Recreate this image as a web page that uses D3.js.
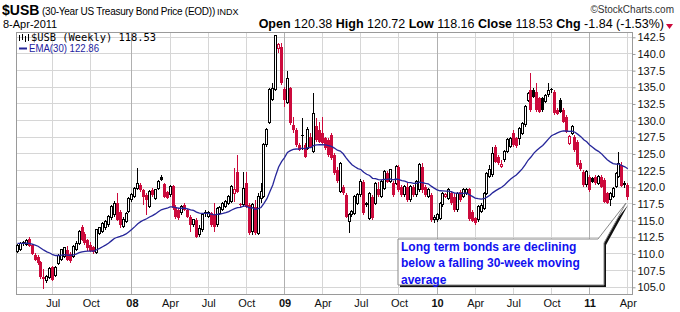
<!DOCTYPE html>
<html>
<head>
<meta charset="utf-8">
<script src="https://cdn.jsdelivr.net/npm/d3@7"></script>
<style>
body { margin: 0; background: #fff; }
svg { display: block; font-family: "Liberation Sans", Arial, sans-serif; }
</style>
</head>
<body>
<div id="chart-area"></div>
<script>
// $USB weekly bars, week of 9-Apr-2007 to week of 4-Apr-2011 (209 weeks)
let opens = [
	110.3, 110.6, 111.5, 111.4, 112.2, 111.3, 109.9, 109.5, 108.8, 106.5,
	106.0, 106.4, 108.0, 106.8, 108.6, 109.1, 109.6, 110.6, 110.0, 109.6,
	110.6, 111.6, 114.1, 113.0, 112.1, 111.4, 111.0, 110.2, 113.1, 113.4,
	113.9, 114.4, 115.4, 115.9, 117.6, 116.3, 114.1, 114.9, 116.35, 118.1,
	118.6, 119.85, 120.35, 119.6, 118.85, 117.1, 119.6, 118.35, 119.85, 121.6,
	120.45, 119.35, 118.85, 120.2, 117.1, 116.6, 116.2, 117.35, 116.6, 115.6,
	114.35, 115.1, 112.85, 113.6, 116.25, 115.6, 116.1, 115.85, 114.35, 116.1,
	116.6, 117.1, 117.6, 117.85, 119.1, 122.35, 117.5, 117.35, 120.6, 117.35,
	113.35, 117.1, 113.1, 118.35, 118.6, 126.35, 129.7, 133.1, 134.6, 140.85,
	141.1, 134.7, 132.7, 134.85, 129.35, 128.6, 126.35, 127.8, 126.35, 125.85,
	127.6, 125.35, 129.2, 128.6, 128.1, 127.35, 127.1, 127.85, 124.85, 122.6,
	119.35, 120.1, 118.85, 114.85, 115.85, 116.1, 117.6, 118.85, 120.85, 117.35,
	115.35, 118.6, 117.6, 119.7, 118.6, 119.8, 122.1, 120.85, 120.6, 120.6,
	123.1, 120.1, 118.85, 120.1, 118.1, 120.1, 118.85, 119.6, 123.1, 120.1,
	118.6, 118.85, 115.1, 115.1, 115.35, 117.35, 118.6, 118.35, 119.2, 118.6,
	116.6, 119.35, 118.6, 119.1, 119.7, 116.35, 115.35, 115.1, 116.35, 116.85,
	119.1, 121.6, 121.85, 126.0, 124.6, 123.1, 124.1, 125.35, 126.1, 128.1,
	127.35, 127.35, 128.1, 129.35, 133.0, 134.6, 134.6, 134.35, 133.35, 133.35,
	132.85, 133.85, 134.75, 134.35, 131.6, 133.1, 131.6, 130.6, 126.6, 128.1,
	127.6, 126.85, 123.6, 122.35, 120.35, 121.6, 121.35, 121.6, 120.6, 121.6,
	121.1, 119.1, 118.1, 118.6, 120.1, 121.6, 123.35, 120.6, 120.38
];
let highs = [
	111.5, 111.8, 111.9, 112.2, 112.5, 111.5, 110.1, 109.8, 109.0, 107.8,
	106.9, 108.0, 108.2, 108.2, 110.0, 110.8, 111.1, 111.2, 110.3, 111.3,
	111.9, 113.6, 114.4, 113.3, 112.3, 111.8, 111.2, 113.8, 114.1, 114.8,
	115.1, 115.9, 117.3, 118.0, 119.1, 116.6, 115.6, 116.3, 118.6, 119.1,
	120.1, 122.95, 120.6, 119.8, 119.1, 119.6, 119.9, 119.8, 121.1, 121.85,
	120.6, 119.5, 120.3, 120.4, 117.3, 116.9, 117.3, 117.6, 116.8, 115.8,
	115.3, 115.4, 114.35, 116.1, 116.6, 116.5, 116.3, 117.6, 117.1, 117.2,
	117.8, 118.1, 118.85, 120.35, 122.85, 124.85, 117.7, 122.35, 122.35, 117.6,
	117.6, 118.1, 119.1, 120.6, 126.6, 128.85, 134.85, 135.6, 142.75, 141.6,
	141.6, 135.1, 137.4, 135.1, 130.6, 128.85, 126.6, 130.35, 126.6, 129.1,
	128.1, 134.1, 130.35, 129.8, 130.6, 127.6, 127.35, 128.1, 125.1, 123.1,
	123.8, 120.35, 119.1, 116.1, 116.6, 118.85, 119.1, 121.2, 121.1, 117.85,
	119.35, 118.85, 120.85, 120.85, 121.1, 122.6, 122.4, 122.8, 121.0, 123.35,
	123.35, 120.35, 120.35, 120.6, 120.35, 120.3, 121.1, 123.6, 123.6, 120.35,
	119.85, 119.1, 115.85, 116.1, 117.85, 119.35, 119.1, 119.85, 119.5, 119.1,
	119.35, 119.6, 119.85, 119.95, 119.95, 116.6, 115.6, 117.35, 117.6, 119.35,
	122.35, 123.35, 126.1, 126.35, 124.85, 124.1, 125.6, 127.35, 127.6, 128.6,
	127.6, 129.1, 129.85, 132.35, 134.35, 137.1, 134.85, 135.6, 133.6, 133.6,
	133.95, 135.6, 134.9, 134.6, 131.85, 133.35, 131.85, 130.85, 127.85, 129.35,
	127.85, 127.1, 124.1, 122.6, 122.6, 121.85, 121.6, 121.85, 121.85, 121.85,
	121.35, 119.35, 119.35, 120.1, 122.35, 125.35, 123.85, 120.9, 120.72
];
let lows = [
	110.1, 110.4, 111.2, 111.2, 111.0, 109.8, 108.9, 108.3, 106.3, 104.8,
	105.6, 106.2, 105.9, 106.6, 108.4, 108.9, 109.4, 108.9, 108.7, 109.4,
	110.4, 111.4, 111.9, 111.4, 110.4, 110.3, 110.0, 110.0, 112.9, 113.1,
	113.6, 114.1, 115.1, 115.6, 114.9, 113.9, 113.9, 114.7, 116.1, 117.8,
	118.4, 119.6, 119.3, 117.35, 115.85, 116.9, 118.6, 118.1, 119.6, 120.9,
	118.4, 118.2, 118.6, 116.6, 115.3, 115.1, 115.9, 116.4, 115.4, 113.35,
	114.1, 112.4, 112.6, 113.35, 115.6, 115.4, 114.1, 113.35, 114.1, 115.9,
	116.4, 116.9, 117.4, 117.6, 117.85, 119.1, 117.1, 117.1, 116.85, 112.85,
	112.85, 112.85, 112.85, 117.6, 118.35, 126.1, 129.5, 132.9, 134.4, 140.1,
	135.4, 132.1, 132.5, 129.4, 128.1, 126.1, 125.4, 125.6, 124.35, 125.6,
	125.85, 125.1, 126.85, 126.6, 126.35, 125.6, 124.6, 124.1, 121.85, 120.6,
	119.1, 118.85, 115.35, 113.2, 115.6, 115.85, 117.35, 118.6, 115.85, 117.1,
	115.1, 115.1, 117.35, 118.6, 118.35, 119.6, 120.6, 120.6, 118.6, 120.35,
	119.35, 118.6, 118.6, 117.85, 117.85, 118.6, 118.6, 119.35, 119.1, 118.6,
	118.35, 114.85, 114.6, 114.85, 115.1, 117.1, 118.35, 118.1, 117.35, 116.35,
	116.35, 117.85, 118.35, 118.85, 115.0, 114.85, 114.35, 114.85, 116.1, 116.6,
	118.85, 121.35, 121.6, 123.6, 123.35, 122.85, 123.85, 125.1, 125.85, 126.1,
	125.95, 126.35, 127.85, 129.1, 132.85, 131.35, 133.35, 131.35, 131.1, 131.35,
	132.6, 133.6, 134.1, 130.85, 130.85, 131.1, 129.6, 128.1, 126.35, 127.85,
	125.35, 123.1, 122.45, 120.1, 120.1, 119.35, 120.6, 120.35, 120.35, 119.85,
	117.6, 117.45, 117.2, 118.35, 119.85, 121.35, 120.0, 119.9, 118.16
];
let closes = [
	111.3, 111.6, 111.7, 112.0, 111.2, 110.0, 109.1, 108.6, 106.6, 106.3,
	106.6, 107.8, 106.1, 108.0, 109.8, 110.6, 110.9, 109.1, 108.9, 111.1,
	111.6, 113.4, 112.1, 111.6, 110.9, 110.5, 110.3, 113.6, 113.9, 114.6,
	114.9, 115.6, 117.1, 117.6, 115.1, 114.4, 115.1, 116.1, 118.35, 118.85,
	119.85, 120.6, 119.6, 118.6, 118.1, 119.35, 118.85, 119.6, 120.85, 121.1,
	118.6, 118.4, 120.1, 116.85, 115.6, 115.4, 117.1, 116.6, 115.6, 114.35,
	115.1, 112.6, 113.85, 115.85, 115.95, 116.25, 114.35, 114.1, 116.85, 116.95,
	117.5, 117.85, 118.6, 120.1, 119.6, 119.35, 117.35, 119.85, 117.1, 113.1,
	117.35, 113.1, 118.6, 119.35, 126.35, 128.6, 134.6, 134.85, 142.7, 141.35,
	135.6, 133.1, 136.35, 129.6, 128.6, 126.35, 125.6, 127.7, 124.6, 128.6,
	126.1, 131.1, 127.1, 126.85, 126.6, 125.85, 124.85, 124.35, 122.1, 120.9,
	123.6, 119.1, 115.6, 115.9, 116.35, 118.6, 118.85, 120.85, 116.1, 117.6,
	119.1, 115.35, 120.6, 118.8, 120.85, 122.35, 120.85, 122.6, 118.85, 123.1,
	119.6, 118.85, 120.1, 118.1, 120.1, 118.85, 120.85, 123.35, 119.6, 118.85,
	119.6, 115.1, 115.5, 115.85, 117.6, 119.1, 118.85, 119.6, 117.6, 116.6,
	119.1, 118.1, 119.6, 119.7, 115.2, 115.0, 114.6, 117.1, 117.3, 119.1,
	122.1, 122.6, 125.1, 123.85, 123.6, 123.45, 125.35, 127.1, 127.25, 126.35,
	126.2, 128.85, 129.6, 132.1, 134.1, 131.6, 133.6, 131.6, 131.35, 131.6,
	133.7, 134.5, 134.6, 131.1, 131.05, 131.35, 129.85, 128.35, 127.6, 129.1,
	125.6, 123.35, 122.7, 120.35, 122.35, 119.6, 120.85, 120.6, 121.6, 120.1,
	117.85, 117.7, 119.1, 119.85, 122.1, 123.6, 120.2, 120.37, 118.53
];
let firstWeek = new Date(2007, 3, 9);
let lastWeek = new Date(2011, 3, 4);
let emaPeriod = 30;
let emaStart = 111.6;   // EMA level at the left edge of the chart
let yTicks = [105, 107.5, 110, 112.5, 115, 117.5, 120, 122.5, 125, 127.5, 130, 132.5, 135, 137.5, 140, 142.5];
let monthNames = ["Jan", "Feb", "Mar", "Apr", "May", "Jun", "Jul", "Aug", "Sep", "Oct", "Nov", "Dec"];
let noteLines = ["Long term bonds are declining", "below a falling 30-week moving", "average"];

let width = 680,
	height = 312;
let plot = { left: 16, right: 632.5, top: 32, bottom: 294.5 };
let red = "#cc0a3c",
	emaColor = "#26269a";

let svg = d3.select("#chart-area")
	.append("svg")
	.attr("width", width)
	.attr("height", height);

let weeks = d3.timeMonday.range(firstWeek, d3.timeDay.offset(lastWeek, 1));
let bars = weeks.map((d, i) => ({
	date: d, open: opens[i], high: highs[i], low: lows[i], close: closes[i],
	prev: i > 0 ? closes[i - 1] : opens[i]
}));

let x = d3.scaleTime()
	.domain([weeks[0], weeks[weeks.length - 1]])
	.range([17.5, 627.8]);
let y = d3.scaleLinear()
	.domain([105, 142.5])
	.range([287.3, 37.3]);

// quarter grid lines sit on the first week of Jan/Apr/Jul/Oct
let quarterWeeks = weeks.filter(d => d.getDate() <= 7 && d.getMonth() % 3 == 0);

// header
svg.append("text").attr("x", 2).attr("y", 15)
	.attr("font-size", 14).attr("font-weight", "bold")
	.text("$USB");
svg.append("text").attr("x", 42).attr("y", 15)
	.attr("font-size", 10).attr("letter-spacing", -0.25)
	.text("(30-Year US Treasury Bond Price (EOD))");
svg.append("text").attr("x", 217).attr("y", 15)
	.attr("font-size", 9)
	.text("INDX");
svg.append("text").attr("x", 674).attr("y", 13)
	.attr("font-size", 10).attr("text-anchor", "end").attr("fill", "#333")
	.text("\u00a9StockCharts.com");
svg.append("text").attr("x", 3).attr("y", 28)
	.attr("font-size", 11)
	.text("8-Apr-2011");

let quote = svg.append("text").attr("x", 664).attr("y", 28)
	.attr("font-size", 12.5).attr("text-anchor", "end");
[["Open", " 120.38 "], ["High", " 120.72 "], ["Low", " 118.16 "], ["Close", " 118.53 "], ["Chg", " -1.84 (-1.53%)"]]
	.forEach(p => {
		quote.append("tspan").attr("font-weight", "bold").text(p[0]);
		quote.append("tspan").text(p[1]);
	});
svg.append("path")
	.attr("d", "M666,24 L673,24 L669.5,29 Z")
	.attr("fill", red);

// grid
let grid = svg.append("g").attr("shape-rendering", "crispEdges");
grid.selectAll(".hgrid")
	.data(yTicks)
	.enter()
	.append("line")
	.attr("x1", plot.left).attr("x2", plot.right)
	.attr("y1", d => y(d)).attr("y2", d => y(d))
	.attr("stroke", "#d6d6d6");
grid.selectAll(".vgrid")
	.data(quarterWeeks)
	.enter()
	.append("line")
	.attr("x1", d => x(d)).attr("x2", d => x(d))
	.attr("y1", plot.top).attr("y2", plot.bottom)
	.attr("stroke", d => d.getMonth() == 0 ? "#b0b0b0" : "#d6d6d6");
grid.append("rect")
	.attr("x", plot.left).attr("y", plot.top)
	.attr("width", plot.right - plot.left).attr("height", plot.bottom - plot.top)
	.attr("fill", "none").attr("stroke", "#9a9a9a");

// y axis on the right
let yAxis = d3.axisRight(y)
	.tickValues(yTicks)
	.tickSize(3)
	.tickFormat(d3.format(".1f"));
let yAxisG = svg.append("g")
	.attr("transform", "translate(" + plot.right + ",0)")
	.call(yAxis);
yAxisG.select(".domain").remove();
yAxisG.selectAll("line").attr("stroke", "#9a9a9a");
yAxisG.selectAll("text")
	.attr("font-family", "Liberation Sans, Arial, sans-serif")
	.attr("font-size", 11).attr("fill", "#111").attr("x", 5);

// x axis labels
let xAxis = d3.axisBottom(x)
	.tickValues(quarterWeeks)
	.tickSize(0)
	.tickFormat(d => d.getMonth() == 0 ? d3.timeFormat("%y")(d) : monthNames[d.getMonth()]);
let xAxisG = svg.append("g")
	.attr("transform", "translate(0," + plot.bottom + ")")
	.call(xAxis);
xAxisG.select(".domain").remove();
xAxisG.selectAll("text")
	.attr("font-family", "Liberation Sans, Arial, sans-serif")
	.attr("font-size", 11).attr("fill", "#111").attr("y", 5)
	.attr("font-weight", d => d.getMonth() == 0 ? "bold" : "normal");

// candles
let candles = svg.append("g").attr("shape-rendering", "crispEdges");
let colorOf = d => d.close < d.prev ? red : "#000";
candles.selectAll(".wick")
	.data(bars)
	.enter()
	.append("line")
	.attr("x1", d => x(d.date)).attr("x2", d => x(d.date))
	.attr("y1", d => y(d.high)).attr("y2", d => y(d.low))
	.attr("stroke", colorOf);
candles.selectAll(".body")
	.data(bars)
	.enter()
	.append("rect")
	.attr("x", d => x(d.date) - (d.close > d.open ? 1 : 1.5))
	.attr("width", d => d.close > d.open ? 2 : 3)
	.attr("y", d => y(Math.max(d.open, d.close)))
	.attr("height", d => Math.max(1, y(Math.min(d.open, d.close)) - y(Math.max(d.open, d.close))))
	.attr("fill", d => d.close > d.open ? "#fff" : colorOf(d))
	.attr("stroke", d => d.close > d.open ? colorOf(d) : "none");

// EMA(30) of the weekly closes
let k = 2 / (emaPeriod + 1);
let ema = [];
closes.reduce((prev, c, i) => {
	let e = prev + k * (c - prev);
	ema.push({ date: weeks[i], value: e });
	return e;
}, emaStart);
svg.append("path")
	.datum(ema)
	.attr("fill", "none")
	.attr("stroke", emaColor)
	.attr("stroke-width", 1.3)
	.attr("d", d3.line().x(d => x(d.date)).y(d => y(d.value)));

// legend
let icon = svg.append("g").attr("stroke", "#000").attr("shape-rendering", "crispEdges");
[[19, 35, 41], [22, 34, 40], [25, 36, 42], [28, 34, 41]].forEach(p => {
	icon.append("line").attr("x1", p[0]).attr("x2", p[0]).attr("y1", p[1]).attr("y2", p[2]);
});
svg.append("text").attr("x", 31).attr("y", 41)
	.attr("font-family", "DejaVu Sans Mono, monospace")
	.attr("font-size", 10.4)
	.text("$USB (Weekly) 118.53");
svg.append("line")
	.attr("x1", 19).attr("x2", 27).attr("y1", 48.5).attr("y2", 48.5)
	.attr("stroke", emaColor).attr("stroke-width", 2);
svg.append("text").attr("x", 29).attr("y", 52)
	.attr("font-size", 11).attr("fill", "#1c1ca0")
	.attr("textLength", 70).attr("lengthAdjust", "spacingAndGlyphs")
	.text("EMA(30) 122.86");

// call-out note
let note = { left: 398, top: 239, right: 604, bottom: 285 };
let tip = [626, 203];
let notePath = "M" + note.left + "," + note.top +
	" L598," + note.top +
	" L" + tip[0] + "," + tip[1] +
	" L" + note.right + "," + (note.top + 4) +
	" L" + note.right + "," + note.bottom +
	" L" + note.left + "," + note.bottom + " Z";
svg.append("path")
	.attr("d", notePath)
	.attr("transform", "translate(2,2)")
	.attr("fill", "#111");
svg.append("path")
	.attr("d", notePath)
	.attr("fill", "#fff")
	.attr("stroke", "#888");
svg.selectAll(".note")
	.data(noteLines)
	.enter()
	.append("text")
	.attr("x", 401)
	.attr("y", (d, i) => 251 + i * 16.3)
	.attr("font-size", 12).attr("font-weight", "bold")
	.attr("fill", "#1010f0")
	.text(d => d);
</script>
</body>
</html>
